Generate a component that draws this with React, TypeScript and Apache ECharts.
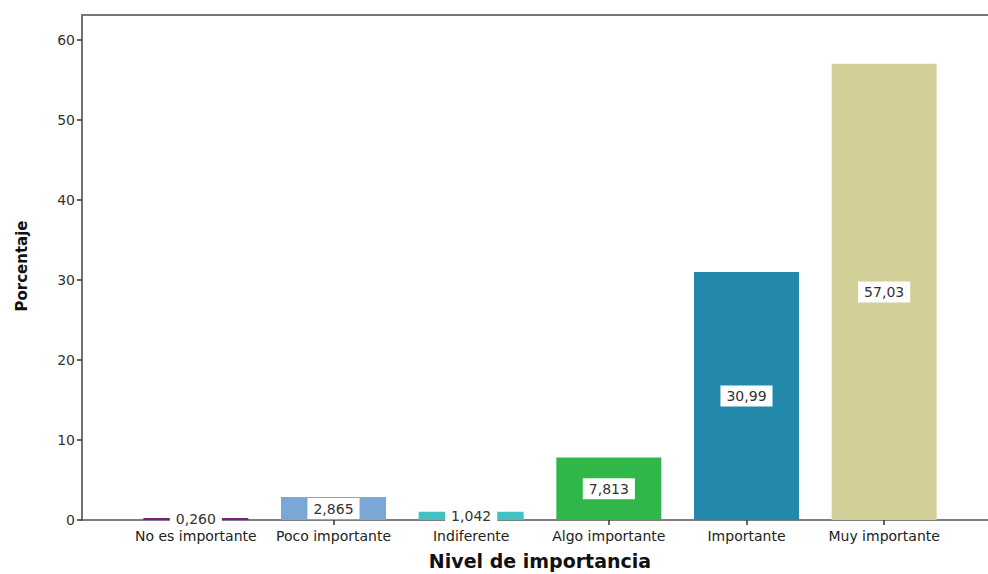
import React, { useEffect, useRef } from "react";
import * as echarts from "echarts";

const categories = [
  "No es importante",
  "Poco importante",
  "Indiferente",
  "Algo importante",
  "Importante",
  "Muy importante",
];
const values = [0.26, 2.865, 1.042, 7.813, 30.99, 57.03];
const valueLabels = ["0,260", "2,865", "1,042", "7,813", "30,99", "57,03"];
const barColors = ["#7b1f7e", "#7ba7d7", "#42c1c2", "#2fb849", "#2389aa", "#d3cf98"];
const yTicks = [0, 10, 20, 30, 40, 50, 60];

const FONT = "'DejaVu Sans', Verdana, sans-serif";
const YMAX = 63.125;

export default function App() {
  const ref = useRef<HTMLDivElement>(null);
  useEffect(() => {
    if (!ref.current) return;
    const chart = echarts.init(ref.current, null, { renderer: "svg" });
    chart.setOption({
      animation: false,
      backgroundColor: "#ffffff",
      grid: [
        { left: 82, right: 0, top: 15, bottom: 54 },
        { left: 127, right: 35, top: 15, bottom: 54 },
      ],
      xAxis: [
        {
          gridIndex: 0,
          type: "value",
          min: 0,
          max: 1,
          axisLine: { show: true, lineStyle: { color: "#555", width: 1.5 } },
          axisTick: { show: false },
          axisLabel: { show: false },
          splitLine: { show: false },
        },
        {
          gridIndex: 0,
          type: "value",
          position: "top",
          min: 0,
          max: 1,
          axisLine: { show: true, lineStyle: { color: "#777", width: 2 } },
          axisTick: { show: false },
          axisLabel: { show: false },
          splitLine: { show: false },
        },
        {
          gridIndex: 1,
          type: "category",
          data: categories,
          axisLine: { show: false },
          axisTick: { show: true, alignWithLabel: true, length: 5, lineStyle: { color: "#333", width: 1.5 } },
          axisLabel: { color: "#222", fontSize: 14, fontFamily: FONT, margin: 9, interval: 0 },
        },
      ],
      yAxis: [
        {
          gridIndex: 0,
          type: "value",
          min: 0,
          max: YMAX,
          axisLine: { show: true, lineStyle: { color: "#444", width: 1.5 } },
          axisTick: { show: true, length: 5, customValues: yTicks, lineStyle: { color: "#333", width: 1.5 } },
          axisLabel: { customValues: yTicks, color: "#333", fontSize: 14, fontFamily: FONT, margin: 7 },
          splitLine: { show: false },
        },
        {
          gridIndex: 1,
          type: "value",
          min: 0,
          max: YMAX,
          show: false,
        },
      ],
      series: [
        {
          type: "bar",
          xAxisIndex: 2,
          yAxisIndex: 1,
          barWidth: 105,
          data: values.map((v, i) => ({ value: v, itemStyle: { color: barColors[i] } })),
          label: {
            show: true,
            position: "inside",
            formatter: (p: any) => valueLabels[p.dataIndex],
            color: "#333",
            fontSize: 14,
            fontFamily: FONT,
            backgroundColor: "#ffffff",
            padding: [4, 6, 3, 6],
          },
        },
      ],
      graphic: [
        {
          type: "text",
          x: 540,
          y: 561,
          style: {
            text: "Nivel de importancia",
            font: "bold 19px 'DejaVu Sans', Verdana, sans-serif",
            fill: "#111",
            textAlign: "center",
            textVerticalAlign: "middle",
          },
        },
        {
          type: "text",
          x: 22,
          y: 266,
          rotation: Math.PI / 2,
          style: {
            text: "Porcentaje",
            font: "bold 15px 'DejaVu Sans', Verdana, sans-serif",
            fill: "#111",
            textAlign: "center",
            textVerticalAlign: "middle",
          },
        },
      ],
    });
    return () => chart.dispose();
  }, []);
  return <div ref={ref} style={{ width: 988, height: 574, position: "absolute", left: 0, top: 0 }} />;
}
